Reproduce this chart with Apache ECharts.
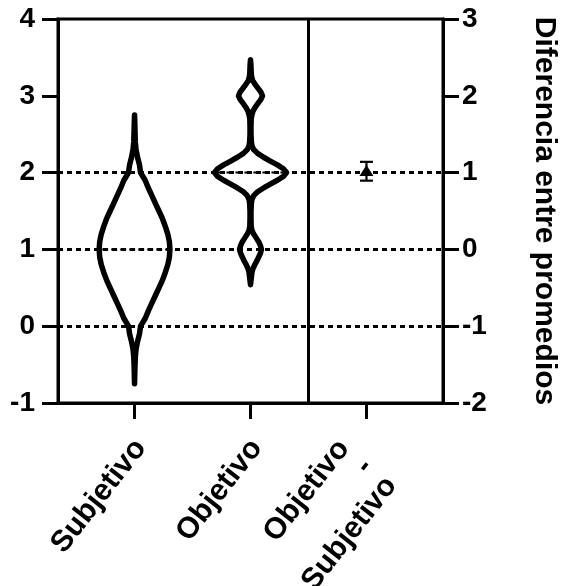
<!DOCTYPE html>
<html>
<head>
<meta charset="utf-8">
<script src="https://cdn.jsdelivr.net/npm/echarts@6/dist/echarts.min.js"></script>
<style>
  html, body { margin: 0; padding: 0; background: #ffffff; }
  #chart { width: 561px; height: 586px; }
</style>
</head>
<body>
<div id="chart"></div>
<script>
// Groups on the x axis (positions 0, 1, 2)
const categories = ['Subjetivo', 'Objetivo', 'Objetivo\n-\nSubjetivo'];

// Violin outlines: [score, relative density]
const subjetivoProfile = [
  [-0.75, 0], [-0.55, 0.01], [-0.4, 0.022], [-0.3, 0.042], [-0.2, 0.085], [-0.1, 0.14],
  [0.0, 0.17], [0.1, 0.30], [0.2, 0.39], [0.3, 0.49], [0.4, 0.59], [0.5, 0.69],
  [0.6, 0.79], [0.7, 0.87], [0.8, 0.94], [0.9, 0.985], [1.0, 1.0], [1.1, 0.985],
  [1.2, 0.94], [1.3, 0.87], [1.4, 0.79], [1.5, 0.69], [1.6, 0.59], [1.7, 0.49],
  [1.8, 0.39], [1.9, 0.30], [2.0, 0.17], [2.1, 0.14], [2.2, 0.085], [2.3, 0.042],
  [2.4, 0.022], [2.6, 0.01], [2.75, 0]
];
const objetivoProfile = [
  [0.54, 0], [0.6, 0.015], [0.7, 0.04], [0.75, 0.07], [0.8, 0.12], [0.85, 0.18],
  [0.9, 0.23], [0.95, 0.28], [1.0, 0.31], [1.05, 0.28], [1.1, 0.23], [1.15, 0.16],
  [1.2, 0.09], [1.25, 0.04], [1.3, 0.02], [1.4, 0.014], [1.5, 0.014], [1.6, 0.025],
  [1.65, 0.04], [1.7, 0.09], [1.75, 0.2], [1.8, 0.37], [1.85, 0.56], [1.9, 0.76],
  [1.95, 0.93], [2.0, 1.02], [2.05, 0.93], [2.1, 0.76], [2.15, 0.56], [2.2, 0.37],
  [2.25, 0.2], [2.3, 0.09], [2.35, 0.04], [2.4, 0.025], [2.5, 0.014], [2.6, 0.014],
  [2.7, 0.02], [2.75, 0.04], [2.8, 0.07], [2.85, 0.13], [2.9, 0.21], [2.95, 0.29],
  [3.0, 0.34], [3.05, 0.29], [3.1, 0.21], [3.15, 0.13], [3.2, 0.06], [3.25, 0.03],
  [3.3, 0.02], [3.4, 0.012], [3.47, 0]
];
const medians = [1, 2];

// Difference between means (right axis): mean with interval
const diffMean = [1.02];
const diffLow = [0.895];
const diffHigh = [1.14];

// Reference lines on the left axis and the separator between panels
const referenceLines = [0, 1, 2];
const separatorAt = 1.5;

const FONT = '"Liberation Sans", Arial, Helvetica, sans-serif';
const HALF_WIDTH = 0.305;   // x-units spanned by a relative density of 1

const chart = echarts.init(document.getElementById('chart'), null, { renderer: 'canvas' });

const profiles = [subjetivoProfile, objetivoProfile];

function renderViolin(params, api) {
  const i = params.dataIndex;
  const prof = profiles[i];
  const xc = api.value(0);
  const med = api.value(1);
  const rightSide = prof.map(p => api.coord([xc + p[1] * HALF_WIDTH, p[0]]));
  const leftSide = prof.slice().reverse().map(p => api.coord([xc - p[1] * HALF_WIDTH, p[0]]));
  const pts = rightSide.concat(leftSide);
  let dMed = 0;
  prof.forEach(p => { if (Math.abs(p[0] - med) < 1e-9) dMed = p[1]; });
  const a = api.coord([xc - dMed * HALF_WIDTH, med]);
  const b = api.coord([xc + dMed * HALF_WIDTH, med]);
  return {
    type: 'group',
    children: [
      {
        type: 'line',
        shape: { x1: a[0] + 3, y1: a[1], x2: b[0] - 3, y2: b[1] },
        style: { stroke: '#000', lineWidth: 2, lineDash: [6, 3] }
      },
      {
        type: 'polygon',
        shape: { points: pts },
        style: { fill: 'none', stroke: '#000', lineWidth: 5.5, lineJoin: 'round' }
      }
    ]
  };
}

function renderDiff(params, api) {
  const x = api.value(0);
  const m = api.coord([x, api.value(1)]);
  const lo = api.coord([x, api.value(2)]);
  const hi = api.coord([x, api.value(3)]);
  const cap = 6.5;
  return {
    type: 'group',
    children: [
      { type: 'line', shape: { x1: m[0], y1: lo[1], x2: m[0], y2: hi[1] }, style: { stroke: '#000', lineWidth: 2.2 } },
      { type: 'line', shape: { x1: m[0] - cap, y1: hi[1], x2: m[0] + cap, y2: hi[1] }, style: { stroke: '#000', lineWidth: 2.2 } },
      { type: 'line', shape: { x1: m[0] - cap, y1: lo[1], x2: m[0] + cap, y2: lo[1] }, style: { stroke: '#000', lineWidth: 2.2 } },
      { type: 'polygon', shape: { points: [[m[0], m[1] - 6], [m[0] + 7, m[1] + 5], [m[0] - 7, m[1] + 5]] }, style: { fill: '#000' } }
    ]
  };
}

// Slanted group labels under the x axis
const LABEL_ANGLE = 52 * Math.PI / 180;
const LABEL_LINE_H = 30;
function renderCategoryLabel(params, api) {
  const text = categories[api.value(0)];
  const extra = text.split('\n').length - 1;
  const base = api.coord([api.value(0), -1]);
  return {
    type: 'text',
    x: base[0] + 6 - extra * 2.5,
    y: base[1] + 40 + extra * 9.5,
    rotation: LABEL_ANGLE,
    style: {
      text: text,
      fill: '#000',
      font: 'bold 30px ' + FONT,
      align: 'right',
      verticalAlign: 'middle',
      lineHeight: LABEL_LINE_H
    }
  };
}

const axisBase = {
  axisLine: { show: true, onZero: false, lineStyle: { color: '#000', width: 3 } },
  axisTick: { show: true, inside: false, length: 16, lineStyle: { color: '#000', width: 3 } },
  splitLine: { show: false }
};

chart.setOption({
  animation: false,
  backgroundColor: '#ffffff',
  grid: {
    left: 58, right: 118, top: 19, bottom: 183,
    containLabel: false,
    outerBoundsMode: 'none',
    show: true, borderColor: '#000', borderWidth: 3, backgroundColor: 'transparent'
  },
  xAxis: {
    type: 'value',
    min: -0.66, max: 2.66,
    ...axisBase,
    axisTick: { show: true, customValues: [0, 1, 2], length: 16, lineStyle: { color: '#000', width: 3 } },
    axisLabel: { show: false }
  },
  yAxis: [
    {
      type: 'value', position: 'left', min: -1, max: 4, interval: 1,
      ...axisBase,
      axisLabel: { color: '#000', fontSize: 28, fontWeight: 'bold', fontFamily: FONT, margin: 23 }
    },
    {
      type: 'value', position: 'right', min: -2, max: 3, interval: 1,
      ...axisBase,
      axisLabel: { color: '#000', fontSize: 28, fontWeight: 'bold', fontFamily: FONT, margin: 19 },
      name: 'Diferencia entre promedios',
      nameLocation: 'middle',
      nameRotate: -90,
      nameGap: 86,
      nameTextStyle: { color: '#000', fontSize: 30, fontWeight: 'bold', fontFamily: FONT }
    }
  ],
  series: [
    {
      type: 'line',
      data: [],
      silent: true,
      markLine: {
        silent: true,
        symbol: 'none',
        label: { show: false },
        lineStyle: { color: '#000', width: 3, type: [5, 4] },
        data: referenceLines.map(v => ({ yAxis: v }))
      }
    },
    {
      type: 'line',
      data: [],
      silent: true,
      markLine: {
        silent: true,
        symbol: 'none',
        label: { show: false },
        lineStyle: { color: '#000', width: 3, type: 'solid' },
        data: [{ xAxis: separatorAt }]
      }
    },
    {
      type: 'custom',
      name: 'Violines',
      renderItem: renderViolin,
      data: medians.map((m, i) => [i, m]),
      encode: { x: 0, y: 1 },
      clip: false,
      silent: true
    },
    {
      type: 'custom',
      name: 'Objetivo - Subjetivo',
      yAxisIndex: 1,
      renderItem: renderDiff,
      data: diffMean.map((m, i) => [2, m, diffLow[i], diffHigh[i]]),
      encode: { x: 0, y: [1, 2, 3] },
      clip: false,
      silent: true
    },
    {
      type: 'custom',
      name: 'Etiquetas',
      renderItem: renderCategoryLabel,
      data: categories.map((c, i) => [i, -1]),
      encode: { x: 0, y: 1 },
      clip: false,
      silent: true
    }
  ]
});
</script>
</body>
</html>
